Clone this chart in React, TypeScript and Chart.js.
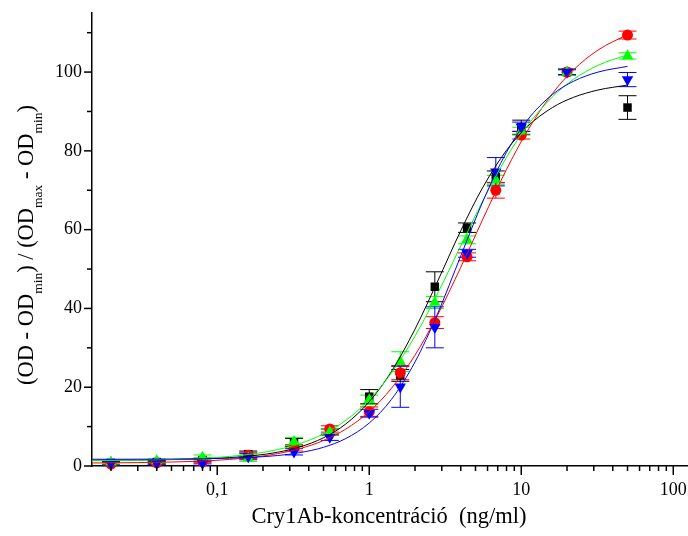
import React, { useEffect, useRef } from 'react';
import { Chart, registerables } from 'chart.js';

Chart.register(...registerables);

// ---- data ----
const concentrations = [0.02, 0.04, 0.08, 0.16, 0.32, 0.55, 1, 1.6, 2.7, 4.4, 6.8, 10, 20, 50];

const blackValues = [0.8, 1.0, 1.5, 3.0, 6.0, 8.6, 17.6, 23.0, 45.5, 60.5, 73.4, 86.0, 100.0, 91.0];
const blackErrors = [0.4, 0.4, 0.5, 0.8, 1.0, 0.8, 1.8, 1.5, 3.8, 1.2, 1.5, 1.8, 0.8, 3.0];

const redValues = [0.5, 0.8, 1.2, 2.7, 4.6, 9.4, 13.8, 23.7, 36.4, 53.1, 70.0, 84.0, 100.0, 109.4];
const redErrors = [0.4, 0.4, 0.6, 0.8, 0.8, 0.8, 1.2, 1.8, 1.5, 1.0, 2.0, 1.0, 0.8, 1.0];

const greenValues = [1.0, 1.3, 2.2, 2.0, 6.2, 8.6, 16.8, 26.5, 41.5, 57.4, 72.6, 85.0, 100.0, 104.1];
const greenErrors = [0.5, 0.5, 0.6, 0.8, 1.0, 0.8, 1.2, 2.5, 1.5, 1.0, 1.2, 1.0, 0.8, 0.8];

const blueValues = [0.6, 0.7, 0.7, 2.4, 3.6, 7.3, 13.4, 20.1, 35.2, 54.0, 74.7, 86.1, 100.0, 98.1];
const blueErrors = [0.5, 0.4, 0.5, 0.8, 0.8, 0.8, 1.0, 5.2, 5.2, 1.0, 3.6, 1.2, 0.6, 1.8];

// fitted curves
const fitX = [0.015, 0.02, 0.03, 0.05, 0.08, 0.12, 0.18, 0.25, 0.35, 0.5, 0.7, 1, 1.4, 2, 2.8, 4, 5.6, 8, 11, 16, 22, 32, 50];
const blackFit = [1.48, 1.49, 1.53, 1.63, 1.81, 2.13, 2.70, 3.50, 4.84, 7.16, 10.65, 16.31, 23.99, 34.74, 46.68, 59.74, 70.81, 80.15, 86.20, 90.98, 93.57, 95.45, 96.70];
const redFit = [0.77, 0.80, 0.86, 1.01, 1.27, 1.66, 2.31, 3.14, 4.41, 6.47, 9.35, 13.81, 19.72, 28.14, 38.13, 50.44, 62.75, 75.29, 85.15, 94.52, 100.52, 105.61, 109.52];
const greenFit = [1.37, 1.41, 1.48, 1.66, 1.96, 2.42, 3.18, 4.17, 5.70, 8.15, 11.58, 16.82, 23.62, 32.98, 43.58, 55.90, 67.41, 78.36, 86.43, 93.68, 98.12, 101.72, 104.41];
const blueFit = [1.71, 1.71, 1.73, 1.76, 1.84, 1.98, 2.26, 2.66, 3.39, 4.75, 6.96, 10.91, 16.91, 26.41, 38.45, 53.33, 67.24, 79.65, 87.86, 94.28, 97.65, 100.0, 101.46];

// axis ticks
const xMajorTicks = [0.1, 1, 10, 100];
const xTickLabels = ['0,1', '1', '10', '100'];
const xMinorTicks = [
  0.02, 0.03, 0.04, 0.05, 0.06, 0.07, 0.08, 0.09,
  0.2, 0.3, 0.4, 0.5, 0.6, 0.7, 0.8, 0.9,
  2, 3, 4, 5, 6, 7, 8, 9,
  20, 30, 40, 50, 60, 70, 80, 90,
];
const yMajorTicks = [0, 20, 40, 60, 80, 100];
const yMinorTicks = [10, 30, 50, 70, 90, 110];

const xTitle = 'Cry1Ab-koncentráció  (ng/ml)';
const yTitleParts = [
  { text: '(OD - OD', sub: false },
  { text: 'min', sub: true },
  { text: ') / (OD', sub: false },
  { text: 'max', sub: true },
  { text: ' - OD', sub: false },
  { text: 'min', sub: true },
  { text: ')', sub: false },
];

const series = [
  { name: 'black', color: '#000000', values: blackValues, errors: blackErrors, fit: blackFit, style: 'rect', radius: 6, rotation: 0 },
  { name: 'red', color: '#ff0000', values: redValues, errors: redErrors, fit: redFit, style: 'circle', radius: 5.5, rotation: 0 },
  { name: 'green', color: '#00ff00', values: greenValues, errors: greenErrors, fit: greenFit, style: 'triangle', radius: 6.6, rotation: 0 },
  { name: 'blue', color: '#0000ff', values: blueValues, errors: blueErrors, fit: blueFit, style: 'triangle', radius: 6.6, rotation: 180 },
];

const SERIF = '"Liberation Serif", "Times New Roman", serif';

const zeroPadding = (scale: any) => {
  scale.paddingLeft = 0;
  scale.paddingRight = 0;
  scale.paddingTop = 0;
  scale.paddingBottom = 0;
};

const decorations = {
  id: 'decorations',
  beforeDatasetsDraw(chart: any) {
    const { ctx, scales } = chart;
    const x = scales.x;
    const y = scales.y;
    ctx.save();
    ctx.lineWidth = 1;
    const cap = 9;
    series.forEach((s) => {
      ctx.strokeStyle = s.color;
      concentrations.forEach((c, i) => {
        const px = x.getPixelForValue(c);
        const top = y.getPixelForValue(s.values[i] + s.errors[i]);
        const bot = y.getPixelForValue(s.values[i] - s.errors[i]);
        ctx.beginPath();
        ctx.moveTo(px, top);
        ctx.lineTo(px, bot);
        ctx.moveTo(px - cap, top);
        ctx.lineTo(px + cap, top);
        ctx.moveTo(px - cap, bot);
        ctx.lineTo(px + cap, bot);
        ctx.stroke();
      });
    });
    ctx.restore();
  },
  afterDraw(chart: any) {
    const { ctx, scales, chartArea } = chart;
    const x = scales.x;
    const y = scales.y;
    ctx.save();
    ctx.strokeStyle = '#000';
    ctx.lineWidth = 1.5;
    const line = (x1: number, y1: number, x2: number, y2: number) => {
      ctx.beginPath();
      ctx.moveTo(x1, y1);
      ctx.lineTo(x2, y2);
      ctx.stroke();
    };
    const b = chartArea.bottom;
    const l = chartArea.left;
    xMajorTicks.forEach((v) => { const p = x.getPixelForValue(v); line(p, b, p, b + 9); });
    xMinorTicks.forEach((v) => { const p = x.getPixelForValue(v); line(p, b, p, b + 5); });
    yMajorTicks.forEach((v) => { const p = y.getPixelForValue(v); line(l - 8, p, l, p); });
    yMinorTicks.forEach((v) => { const p = y.getPixelForValue(v); line(l - 5, p, l, p); });

    // x title
    ctx.fillStyle = '#000';
    ctx.font = `22.5px ${SERIF}`;
    ctx.textAlign = 'center';
    ctx.textBaseline = 'alphabetic';
    ctx.fillText(xTitle, 389, 523);

    // y title with subscripts
    const mainFont = `22.5px ${SERIF}`;
    const subFont = `13.5px ${SERIF}`;
    let total = 0;
    const widths = yTitleParts.map((p) => {
      ctx.font = p.sub ? subFont : mainFont;
      const w = ctx.measureText(p.text).width;
      total += w;
      return w;
    });
    ctx.translate(33, 245 + total / 2);
    ctx.rotate(-Math.PI / 2);
    ctx.textAlign = 'left';
    let cx = 0;
    yTitleParts.forEach((p, i) => {
      ctx.font = p.sub ? subFont : mainFont;
      ctx.fillText(p.text, cx, p.sub ? 8.5 : 0);
      cx += widths[i];
    });
    ctx.restore();
  },
};

export default function App() {
  const canvasRef = useRef<HTMLCanvasElement | null>(null);

  useEffect(() => {
    if (!canvasRef.current) return;
    const datasets: any[] = [];
    series.forEach((s, k) => {
      datasets.push({
        label: s.name,
        data: concentrations.map((c, i) => ({ x: c, y: s.values[i] })),
        showLine: false,
        pointStyle: s.style,
        pointRadius: s.radius,
        pointRotation: s.rotation,
        pointBackgroundColor: s.color,
        pointBorderColor: s.color,
        pointBorderWidth: 0,
        clip: false,
        order: 8 - k,
      });
    });
    series.forEach((s, k) => {
      datasets.push({
        label: s.name + ' fit',
        data: fitX.map((c, i) => ({ x: c, y: s.fit[i] })),
        showLine: true,
        pointRadius: 0,
        borderColor: s.color,
        borderWidth: 1,
        fill: false,
        cubicInterpolationMode: 'monotone',
        clip: false,
        order: 4 - k,
      });
    });

    const chart = new Chart(canvasRef.current, {
      type: 'scatter',
      data: { datasets },
      options: {
        animation: false,
        responsive: true,
        maintainAspectRatio: false,
        layout: { autoPadding: false, padding: { top: 13, right: 0, left: 0, bottom: 0 } },
        plugins: {
          legend: { display: false },
          tooltip: { enabled: false },
        },
        scales: {
          x: {
            type: 'logarithmic',
            min: 0.015,
            max: 125,
            afterBuildTicks: (scale: any) => {
              scale.ticks = xMajorTicks.map((v) => ({ value: v }));
            },
            afterFit: (scale: any) => { scale.height = 70; zeroPadding(scale); },
            grid: { display: false, drawTicks: false },
            border: { display: true, color: '#000', width: 1.5 },
            ticks: {
              autoSkip: false,
              maxRotation: 0,
              minRotation: 0,
              padding: 13,
              color: '#000',
              font: { family: SERIF, size: 18 },
              callback: (value: any) => {
                const idx = xMajorTicks.findIndex((t) => Math.abs(t - Number(value)) < t * 1e-6);
                return idx >= 0 ? xTickLabels[idx] : '';
              },
            },
          },
          y: {
            type: 'linear',
            min: 0,
            max: 115,
            afterBuildTicks: (scale: any) => {
              scale.ticks = yMajorTicks.map((v) => ({ value: v }));
            },
            afterFit: (scale: any) => { scale.width = 92; zeroPadding(scale); },
            grid: { display: false, drawTicks: false },
            border: { display: true, color: '#000', width: 1.5 },
            ticks: {
              padding: 10,
              color: '#000',
              font: { family: SERIF, size: 18 },
              callback: (value: any) => String(value),
            },
          },
        },
      },
      plugins: [decorations],
    } as any);

    return () => chart.destroy();
  }, []);

  return (
    <div style={{ position: 'absolute', left: 0, top: 0, width: 688, height: 536, background: '#fff' }}>
      <canvas ref={canvasRef} />
    </div>
  );
}
